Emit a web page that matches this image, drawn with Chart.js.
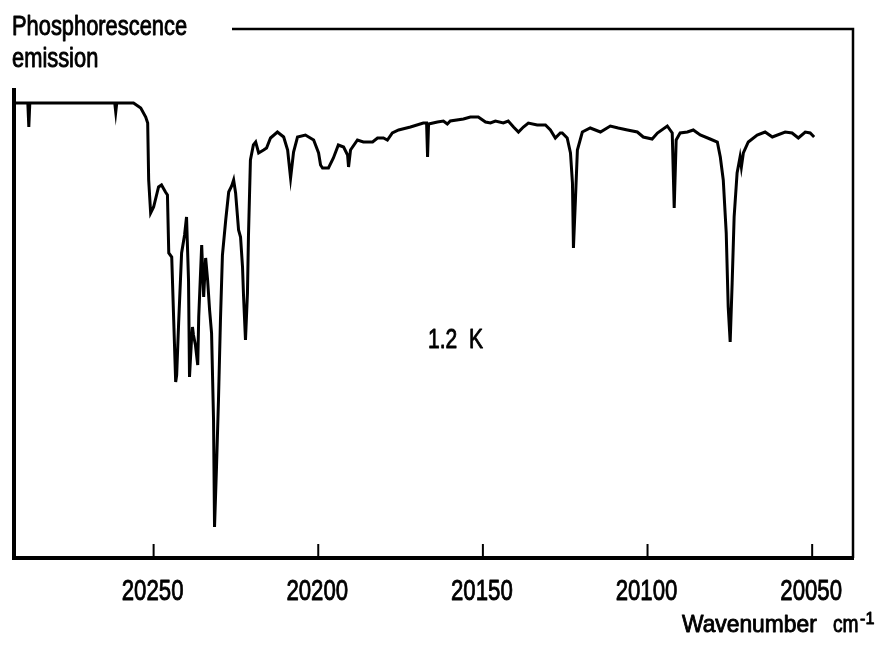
<!DOCTYPE html>
<html>
<head>
<meta charset="utf-8">
<script src="https://cdn.jsdelivr.net/npm/chart.js@4.4.1/dist/chart.umd.min.js"></script>
<style>
  html, body { margin: 0; padding: 0; background: #fff; }
  #wrap { width: 889px; height: 645px; }
</style>
</head>
<body>
<div id="wrap"><canvas id="spectrum"></canvas></div>
<script>
// wavenumber (cm-1) and emission (arbitrary units)
var wavenumbers = [
    20292.5, 20288.5, 20288.2, 20287.9, 20287.6, 20266.1, 20261.8, 20261.5, 20261.2, 20256.1,
    20253.9, 20252.4, 20251.8, 20251.5, 20250.9, 20250.0, 20248.5, 20247.6, 20246.4, 20245.8,
    20245.4, 20244.5, 20243.9, 20243.3, 20243.0, 20242.4, 20241.5, 20240.6, 20240.0, 20239.4,
    20239.1, 20238.5, 20238.2, 20237.9, 20237.3, 20236.6, 20236.3, 20235.4, 20234.8, 20234.2,
    20233.6, 20233.0, 20232.4, 20231.8, 20231.5, 20230.9, 20230.3, 20229.7, 20229.1, 20228.1,
    20227.2, 20226.3, 20225.7, 20225.1, 20224.2, 20223.6, 20223.0, 20222.7, 20222.1, 20221.5,
    20221.2, 20220.6, 20219.7, 20219.0, 20218.1, 20216.6, 20215.7, 20214.5, 20212.4, 20210.5,
    20209.3, 20208.4, 20207.5, 20206.3, 20203.9, 20201.4, 20199.9, 20199.3, 20198.7, 20196.9,
    20195.4, 20193.9, 20192.3, 20191.1, 20190.8, 20190.2, 20188.1, 20186.3, 20183.5, 20182.0,
    20180.2, 20179.0, 20177.5, 20175.6, 20172.0, 20168.1, 20167.1, 20166.8, 20166.5, 20163.8,
    20162.0, 20160.8, 20159.9, 20155.9, 20153.8, 20151.4, 20149.2, 20147.7, 20146.2, 20143.8,
    20142.3, 20140.7, 20139.2, 20137.7, 20136.2, 20133.5, 20131.0, 20129.5, 20128.0, 20126.5,
    20125.9, 20124.4, 20123.4, 20122.8, 20122.5, 20121.9, 20121.3, 20119.8, 20117.4, 20114.3,
    20111.3, 20108.9, 20106.1, 20103.1, 20101.3, 20098.6, 20097.0, 20094.0, 20092.5, 20091.9,
    20091.3, 20090.1, 20087.9, 20086.1, 20084.0, 20081.0, 20078.8, 20077.9, 20077.0, 20076.1,
    20075.5, 20074.9, 20074.3, 20073.7, 20072.8, 20071.9, 20071.5, 20070.9, 20069.4, 20066.7,
    20064.3, 20062.1, 20058.2, 20056.1, 20054.2, 20052.1, 20050.6, 20049.4
];
var emission = [
    91.0, 91.0, 91.0, 86.2, 91.0, 91.0, 91.0, 89.2, 91.0, 91.0,
    90.0, 88.2, 87.0, 75.6, 69.0, 70.2, 74.2, 74.6, 73.2, 72.6,
    61.0, 60.2, 47.6, 35.2, 36.6, 47.0, 61.0, 64.6, 68.2, 55.6,
    36.2, 43.6, 46.2, 44.6, 42.6, 38.6, 48.2, 62.6, 52.2, 60.0,
    55.6, 49.6, 45.0, 27.6, 6.2, 18.2, 31.6, 47.6, 60.6, 67.6,
    73.2, 74.4, 75.6, 73.0, 65.6, 64.2, 58.2, 52.6, 43.6, 53.0,
    64.2, 79.6, 82.6, 83.2, 81.0, 81.6, 82.0, 84.0, 85.2, 84.2,
    81.6, 76.0, 81.2, 84.2, 84.6, 83.6, 81.0, 78.6, 78.0, 78.0,
    80.0, 82.6, 82.2, 80.6, 78.2, 81.6, 83.6, 83.2, 83.2, 84.0,
    84.0, 83.6, 85.0, 85.6, 86.2, 87.0, 87.0, 80.2, 86.8, 87.2,
    87.4, 86.8, 87.4, 87.8, 88.2, 88.2, 87.2, 87.0, 87.4, 87.0,
    87.4, 86.2, 85.2, 86.2, 87.0, 86.6, 86.6, 85.6, 84.0, 85.0,
    85.0, 84.0, 81.0, 75.0, 62.0, 71.6, 81.6, 85.2, 86.0, 85.2,
    86.4, 86.0, 85.6, 85.2, 84.2, 83.8, 85.0, 86.4, 85.0, 70.0,
    83.6, 85.0, 85.2, 85.6, 84.6, 83.8, 83.2, 80.2, 75.6, 65.0,
    50.2, 43.2, 55.0, 68.2, 77.0, 80.2, 78.2, 81.0, 83.2, 84.6,
    85.2, 84.2, 85.2, 85.0, 84.0, 85.2, 85.0, 84.2
];
var tickValues = [20250, 20200, 20150, 20100, 20050];
var tickLabels = ["20250", "20200", "20150", "20100", "20050"];
var xRange = [20037.6, 20292.4];
var yRange = [0, 105.8];
var yTitle = ["Phosphorescence", "emission"];
var xTitle = ["Wavenumber", "cm", "-1"];
var tempLabel = "1.2  K";
var tempAt = [20158.3, 42.0];

var FONT = "'Liberation Sans', Arial, sans-serif";

// narrow, slightly heavy lettering: squeeze horizontally and add a thin outline
function squeezedText(ctx, text, x, y, size, squeeze, align) {
    ctx.save();
    ctx.translate(x, y);
    ctx.scale(squeeze, 1);
    ctx.font = size + 'px ' + FONT;
    ctx.textAlign = align || 'left';
    ctx.textBaseline = 'alphabetic';
    ctx.lineWidth = 0.9;
    ctx.lineJoin = 'round';
    ctx.fillText(text, 0, 0);
    ctx.strokeText(text, 0, 0);
    ctx.restore();
}

var framePlugin = {
    id: 'frame',
    afterDraw: function (chart) {
        var ctx = chart.ctx;
        var a = chart.chartArea;
        var sx = chart.scales.x, sy = chart.scales.y;
        ctx.save();
        ctx.strokeStyle = '#000';
        ctx.fillStyle = '#000';
        ctx.lineCap = 'butt';

        // thick left + bottom edges
        ctx.lineWidth = 4;
        ctx.beginPath();
        ctx.moveTo(a.left, a.top + 59);
        ctx.lineTo(a.left, a.bottom + 2);
        ctx.stroke();
        ctx.beginPath();
        ctx.moveTo(a.left - 2, a.bottom);
        ctx.lineTo(a.right + 1, a.bottom);
        ctx.stroke();

        // thin top + right edges (top starts after the y title)
        ctx.lineWidth = 2.5;
        ctx.beginPath();
        ctx.moveTo(a.left + 218, a.top);
        ctx.lineTo(a.right, a.top);
        ctx.lineTo(a.right, a.bottom);
        ctx.stroke();

        // ticks point inward, labels below
        ctx.lineWidth = 2;
        tickValues.forEach(function (v, i) {
            var px = sx.getPixelForValue(v);
            ctx.beginPath();
            ctx.moveTo(px, a.bottom);
            ctx.lineTo(px, a.bottom - 14);
            ctx.stroke();
            squeezedText(ctx, tickLabels[i], px - 1, a.bottom + 42, 30, 0.74, 'center');
        });

        squeezedText(ctx, yTitle[0], a.left - 2, a.top + 6, 27, 0.81);
        squeezedText(ctx, yTitle[1], a.left - 2, a.top + 38, 27, 0.81);

        squeezedText(ctx, xTitle[0], a.right - 171, a.bottom + 74, 24, 0.95);
        squeezedText(ctx, xTitle[1], a.right - 20, a.bottom + 74, 24, 0.8);
        squeezedText(ctx, xTitle[2], a.right + 7, a.bottom + 66, 17, 0.95);

        squeezedText(ctx, tempLabel, sx.getPixelForValue(tempAt[0]), sy.getPixelForValue(tempAt[1]), 27, 0.78, 'center');
        ctx.restore();
    }
};

new Chart(document.getElementById('spectrum').getContext('2d'), {
    type: 'line',
    data: {
        datasets: [{
            data: wavenumbers.map(function (w, i) { return { x: w, y: emission[i] }; }),
            borderColor: '#000',
            borderWidth: 3,
            pointRadius: 0,
            tension: 0,
            fill: false
        }]
    },
    options: {
        responsive: true,
        maintainAspectRatio: false,
        animation: false,
        layout: { padding: { left: 14, right: 36, top: 29, bottom: 87 } },
        plugins: {
            legend: { display: false },
            tooltip: { enabled: false }
        },
        scales: {
            x: {
                type: 'linear',
                display: false,
                reverse: true,
                min: xRange[0],
                max: xRange[1]
            },
            y: {
                display: false,
                min: yRange[0],
                max: yRange[1]
            }
        }
    },
    plugins: [framePlugin]
});
</script>
</body>
</html>
